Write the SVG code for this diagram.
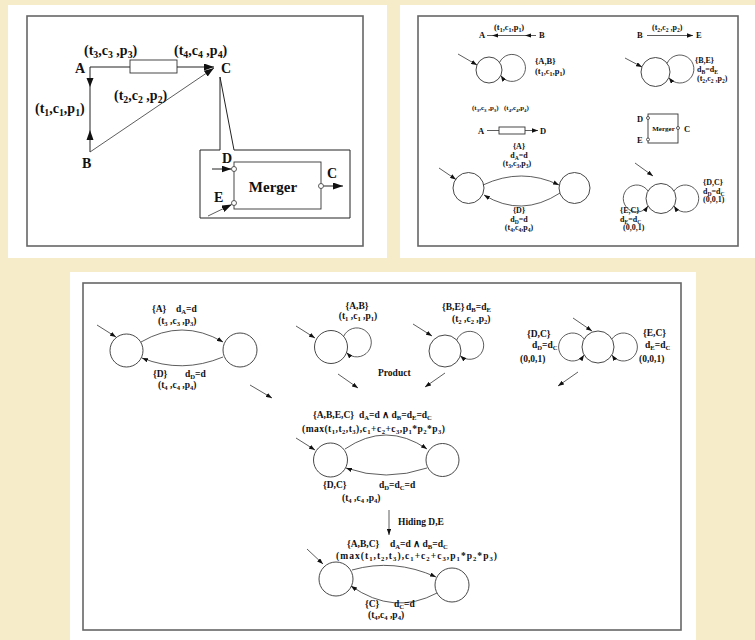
<svg xmlns="http://www.w3.org/2000/svg" width="755" height="640" viewBox="0 0 755 640">
<defs>
<style>
.bg{fill:#f6ecc9}
.pan{fill:#fff}
.frm{fill:none;stroke:#666;stroke-width:1.6}
.ln{fill:none;stroke:#222;stroke-width:1}
.lt{fill:none;stroke:#333;stroke-width:0.8}
.st{fill:#fff;stroke:#333;stroke-width:0.9}
.port{fill:#fff;stroke:#333;stroke-width:0.8}
.ah{fill:#111}
text{font-family:"Liberation Serif","Times New Roman",serif;font-weight:bold;fill:#111}
.f14{font-size:14px}
.f15{font-size:15px}
.f9{font-size:8.5px}
.f95{font-size:9.5px}
.f7{font-size:7px}
.f8{font-size:8px}
.s{font-size:70%}
.f14 .s{baseline-shift:-3px}
.f9 .s,.f8 .s,.f7 .s{baseline-shift:-1.5px}
.f95 .s{baseline-shift:-2px}
</style>
<marker id="big" markerUnits="userSpaceOnUse" markerWidth="10" markerHeight="7" refX="10" refY="3.5" orient="auto"><path d="M0,0 L10,3.5 L0,7 z" class="ah"/></marker>
<marker id="sm" markerUnits="userSpaceOnUse" markerWidth="6" markerHeight="4.4" refX="6" refY="2.2" orient="auto"><path d="M0,0 L6,2.2 L0,4.4 z" class="ah"/></marker>
</defs>
<rect class="bg" x="0" y="0" width="755" height="640"/>
<rect class="pan" x="8" y="5" width="379" height="253"/>
<rect class="pan" x="400" y="5" width="355" height="253"/>
<rect class="pan" x="70" y="272" width="626" height="368"/>
<rect class="frm" x="27" y="16" width="336" height="230"/>
<rect class="frm" x="418" y="16" width="320" height="230"/>
<rect class="frm" x="83" y="283" width="598" height="347"/>

<!-- Panel 1 -->
<g id="p1-connectors">
<line class="ln" x1="90" y1="67" x2="130" y2="67"/>
<rect class="st" x="130" y="60" width="47" height="13"/>
<line class="ln" x1="177" y1="67" x2="214" y2="67" marker-end="url(#big)"/>
<line class="ln" x1="90" y1="67" x2="90" y2="152"/>
<polygon class="ah" points="86.5,78 93.5,78 90,87"/>
<polygon class="ah" points="86.5,140 93.5,140 90,130"/>
<line class="lt" x1="90" y1="152" x2="214" y2="68" marker-end="url(#big)"/>
<path class="ln" d="M220,77 L220,150 L200,150 L200,218 L350,218 L350,150 L234,150 Z"/>
<line class="ln" x1="212" y1="169" x2="231.5" y2="169" marker-end="url(#big)"/>
<line class="lt" x1="208" y1="216" x2="231.8" y2="204.5" marker-end="url(#big)"/>
<line class="ln" x1="323.5" y1="186" x2="343" y2="186" marker-end="url(#big)"/>
</g>
<g id="p1-A"><text class="f14" x="75" y="73">A</text></g>
<g id="p1-B"><text class="f14" x="82" y="168">B</text></g>
<g id="p1-C"><text class="f14" x="221" y="73">C</text></g>
<g id="p1-labels">
<text class="f14" x="84" y="55">(t<tspan class="s">3</tspan>,c<tspan class="s">3</tspan> ,p<tspan class="s">3</tspan>)</text>
<text class="f14" x="174" y="55">(t<tspan class="s">4</tspan>,c<tspan class="s">4</tspan> ,p<tspan class="s">4</tspan>)</text>
<text class="f14" x="35" y="113">(t<tspan class="s">1</tspan>,c<tspan class="s">1</tspan>,p<tspan class="s">1</tspan>)</text>
<text class="f14" x="114" y="100">(t<tspan class="s">2</tspan>,c<tspan class="s">2</tspan> ,p<tspan class="s">2</tspan>)</text>
</g>
<g id="p1-merger">
<rect class="st" x="234" y="162" width="87" height="47"/>
<circle class="port" cx="234" cy="169" r="2.5"/>
<circle class="port" cx="234" cy="203" r="2.5"/>
<circle class="port" cx="321" cy="186" r="2.5"/>
<text class="f15" x="273" y="192" text-anchor="middle">Merger</text>
<text class="f14" x="222" y="163">D</text>
<text class="f14" x="214" y="202">E</text>
<text class="f14" x="327" y="178">C</text>
</g>

<!-- Panel 2 -->
<g id="p2-AB">
<text class="f9" x="479" y="38">A</text>
<line class="lt" x1="487" y1="35.5" x2="536" y2="35.5"/>
<polygon class="ah" points="492,35.5 498,33.5 498,37.5"/>
<polygon class="ah" points="525,35.5 531,33.5 531,37.5"/>
<text class="f9" x="539" y="38">B</text>
<text class="f9" x="494" y="30">(t<tspan class="s">1</tspan>,c<tspan class="s">1</tspan>,p<tspan class="s">1</tspan>)</text>
</g>
<g id="p2-BE">
<text class="f9" x="637" y="38">B</text>
<line class="lt" x1="647" y1="35.5" x2="693" y2="35.5" marker-end="url(#sm)"/>
<text class="f9" x="696" y="38">E</text>
<text class="f8" x="652" y="30">(t<tspan class="s">2</tspan>,c<tspan class="s">2</tspan> ,p<tspan class="s">2</tspan>)</text>
</g>
<g id="p2-autAB">
<circle class="st" cx="489" cy="70" r="13"/>
<line class="lt" x1="458" y1="54" x2="477" y2="65" marker-end="url(#sm)"/>
<path class="lt" d="M499.6,62.5 A13.5,13.5 0 1 1 500.8,75.5" marker-end="url(#sm)"/>
<text class="f9" x="535" y="64">{A,B}</text>
<text class="f9" x="535" y="74">(t<tspan class="s">1</tspan>,c<tspan class="s">1</tspan>,p<tspan class="s">1</tspan>)</text>
</g>
<g id="p2-autBE">
<circle class="st" cx="655.5" cy="72" r="14.5"/>
<line class="lt" x1="625" y1="58" x2="642" y2="67" marker-end="url(#sm)"/>
<path class="lt" d="M667.1,63.3 A14,14 0 1 1 668.9,77.7" marker-end="url(#sm)"/>
<text class="f8" x="695" y="63">{B,E}</text>
<text class="f8" x="697" y="72">d<tspan class="s">B</tspan>=d<tspan class="s">E</tspan></text>
<text class="f8" x="697" y="81">(t<tspan class="s">2</tspan>,c<tspan class="s">2</tspan> ,p<tspan class="s">2</tspan>)</text>
</g>
<g id="p2-AD">
<text class="f7" x="472" y="110">(t<tspan class="s">3</tspan>,c<tspan class="s">3</tspan> ,p<tspan class="s">3</tspan>)</text>
<text class="f7" x="504" y="110">(t<tspan class="s">4</tspan>,c<tspan class="s">4</tspan>,p<tspan class="s">4</tspan>)</text>
<text class="f9" x="478" y="134">A</text>
<line class="lt" x1="487" y1="130.5" x2="499" y2="130.5"/>
<rect class="st" x="499" y="127" width="26" height="7"/>
<line class="lt" x1="525" y1="130.5" x2="538" y2="130.5" marker-end="url(#sm)"/>
<text class="f9" x="540" y="134">D</text>
</g>
<g id="p2-merger">
<rect class="st" x="648" y="114" width="30" height="29"/>
<circle class="port" cx="648" cy="118" r="1.5"/>
<circle class="port" cx="648" cy="139.5" r="1.5"/>
<circle class="port" cx="678" cy="128" r="1.5"/>
<text class="f7" x="663.5" y="131" text-anchor="middle">Merger</text>
<text class="f9" x="637" y="122">D</text>
<text class="f9" x="637" y="143">E</text>
<text class="f9" x="684" y="132">C</text>
</g>
<g id="p2-autAD">
<circle class="st" cx="468.5" cy="188" r="15.5"/>
<circle class="st" cx="574.5" cy="188" r="15.5"/>
<line class="lt" x1="439" y1="168" x2="456" y2="179.5" marker-end="url(#sm)"/>
<path class="lt" d="M483,185 Q521.5,167 559,185" marker-end="url(#sm)"/>
<path class="lt" d="M560,193 Q521.5,218 484,195" marker-end="url(#sm)"/>
<text class="f8" x="519" y="149" text-anchor="middle">{A}</text>
<text class="f8" x="519" y="157.5" text-anchor="middle">d<tspan class="s">A</tspan>=d</text>
<text class="f8" x="517" y="166" text-anchor="middle">(t<tspan class="s">3</tspan>,c<tspan class="s">3</tspan>,p<tspan class="s">3</tspan>)</text>
<text class="f8" x="519" y="213" text-anchor="middle">{D}</text>
<text class="f8" x="519" y="221.5" text-anchor="middle">d<tspan class="s">D</tspan>=d</text>
<text class="f8" x="519" y="230" text-anchor="middle">(t<tspan class="s">4</tspan>,c<tspan class="s">4</tspan>,p<tspan class="s">4</tspan>)</text>
</g>
<g id="p2-autMerger">
<circle class="st" cx="661" cy="198.5" r="15"/>
<line class="lt" x1="635" y1="163" x2="653" y2="176" marker-end="url(#sm)"/>
<path class="lt" d="M648,191 A13.5,13.5 0 1 0 648,206" marker-end="url(#sm)"/>
<path class="lt" d="M674,191 A13.5,13.5 0 1 1 674,206" marker-end="url(#sm)"/>
<text class="f8" x="703" y="185">{D,C}</text>
<text class="f8" x="703" y="193.5">d<tspan class="s">D</tspan>=d<tspan class="s">C</tspan></text>
<text class="f8" x="703" y="202">(0,0,1)</text>
<text class="f8" x="620" y="213">{E,C}</text>
<text class="f8" x="620" y="221.5">d<tspan class="s">E</tspan>=d<tspan class="s">C</tspan></text>
<text class="f8" x="623" y="230">(0,0,1)</text>
</g>

<!-- Panel 3 -->
<g id="p3-connectors">
<line class="lt" x1="250" y1="385" x2="272" y2="398" marker-end="url(#sm)"/>
<line class="lt" x1="338" y1="374" x2="358" y2="388" marker-end="url(#sm)"/>
<line class="lt" x1="445" y1="373" x2="425" y2="387" marker-end="url(#sm)"/>
<line class="lt" x1="578" y1="372" x2="558" y2="386" marker-end="url(#sm)"/>
<line class="lt" x1="389" y1="510" x2="389" y2="535" marker-end="url(#sm)"/>
<text class="f95" x="378" y="376">Product</text>
<text class="f95" x="398" y="525">Hiding D,E</text>
</g>
<g id="p3-autAD">
<circle class="st" cx="126.5" cy="350.5" r="16.5"/>
<circle class="st" cx="240" cy="350" r="17"/>
<line class="lt" x1="97" y1="325" x2="116" y2="337" marker-end="url(#sm)"/>
<path class="lt" d="M141,342 Q182,318 223,342" marker-end="url(#sm)"/>
<path class="lt" d="M223,357 Q182,374 142,358" marker-end="url(#sm)"/>
<text class="f95" x="152" y="312">{A}</text>
<text class="f95" x="176" y="312">d<tspan class="s">A</tspan>=d</text>
<text class="f95" x="158" y="324">(t<tspan class="s">3</tspan> ,c<tspan class="s">3</tspan> ,p<tspan class="s">3</tspan>)</text>
<text class="f95" x="153" y="377">{D}</text>
<text class="f95" x="185" y="377">d<tspan class="s">D</tspan>=d</text>
<text class="f95" x="158" y="388">(t<tspan class="s">4</tspan> ,c<tspan class="s">4</tspan> ,p<tspan class="s">4</tspan>)</text>
</g>
<g id="p3-autAB">
<circle class="st" cx="331" cy="347" r="16.5"/>
<line class="lt" x1="296" y1="326" x2="315" y2="338" marker-end="url(#sm)"/>
<path class="lt" d="M343.6,336.4 A14.5,14.5 0 1 1 346.5,352.6" marker-end="url(#sm)"/>
<text class="f95" x="357" y="309" text-anchor="middle">{A,B}</text>
<text class="f95" x="358" y="319" text-anchor="middle">(t<tspan class="s">1</tspan> ,c<tspan class="s">1</tspan> ,p<tspan class="s">1</tspan>)</text>
</g>
<g id="p3-autBE">
<circle class="st" cx="445" cy="351" r="16"/>
<line class="lt" x1="413" y1="324" x2="432" y2="336" marker-end="url(#sm)"/>
<path class="lt" d="M456.7,340.1 A14,14 0 1 1 460.3,355.7" marker-end="url(#sm)"/>
<text class="f95" x="442" y="310">{B,E}</text>
<text class="f95" x="466" y="310">d<tspan class="s">B</tspan>=d<tspan class="s">E</tspan></text>
<text class="f95" x="452" y="322">(t<tspan class="s">2</tspan> ,c<tspan class="s">2</tspan> ,p<tspan class="s">2</tspan>)</text>
</g>
<g id="p3-autMerger">
<circle class="st" cx="598" cy="347" r="16"/>
<line class="lt" x1="573" y1="318" x2="592" y2="331" marker-end="url(#sm)"/>
<path class="lt" d="M584.1,339 A14,14 0 1 0 584.1,355" marker-end="url(#sm)"/>
<path class="lt" d="M611.9,339 A14,14 0 1 1 611.9,355" marker-end="url(#sm)"/>
<text class="f95" x="527" y="337">{D,C}</text>
<text class="f95" x="532" y="348">d<tspan class="s">D</tspan>=d<tspan class="s">C</tspan></text>
<text class="f95" x="520" y="362">(0,0,1)</text>
<text class="f95" x="643" y="336">{E,C}</text>
<text class="f95" x="645" y="348">d<tspan class="s">E</tspan>=d<tspan class="s">C</tspan></text>
<text class="f95" x="639" y="362">(0,0,1)</text>
</g>
<g id="p3-product">
<circle class="st" cx="330.5" cy="460" r="17"/>
<circle class="st" cx="442.5" cy="460" r="16.5"/>
<line class="lt" x1="296" y1="438" x2="315" y2="450" marker-end="url(#sm)"/>
<path class="lt" d="M345,449 Q386,421 427,449" marker-end="url(#sm)"/>
<path class="lt" d="M427,468 Q386,482 346,468" marker-end="url(#sm)"/>
<text class="f95" x="313" y="418">{A,B,E,C}</text>
<text class="f95" x="359" y="418">d<tspan class="s">A</tspan>=d ∧ d<tspan class="s">B</tspan>=d<tspan class="s">E</tspan>=d<tspan class="s">C</tspan></text>
<text class="f95" x="302" y="432" textLength="143" lengthAdjust="spacing">(max(t<tspan class="s">1</tspan>,t<tspan class="s">2</tspan>,t<tspan class="s">3</tspan>),c<tspan class="s">1</tspan>+c<tspan class="s">2</tspan>+c<tspan class="s">3</tspan>,p<tspan class="s">1</tspan>*p<tspan class="s">2</tspan>*p<tspan class="s">3</tspan>)</text>
<text class="f95" x="323" y="488">{D,C}</text>
<text class="f95" x="379" y="488">d<tspan class="s">D</tspan>=d<tspan class="s">C</tspan>=d</text>
<text class="f95" x="342" y="501">(t<tspan class="s">4</tspan> ,c<tspan class="s">4</tspan> ,p<tspan class="s">4</tspan>)</text>
</g>
<g id="p3-hidden">
<circle class="st" cx="336" cy="579" r="17"/>
<circle class="st" cx="452" cy="585" r="17"/>
<line class="lt" x1="307" y1="549" x2="323" y2="564" marker-end="url(#sm)"/>
<path class="lt" d="M352,570 Q394,558 436,577" marker-end="url(#sm)"/>
<path class="lt" d="M437,593 Q394,616 351,586" marker-end="url(#sm)"/>
<text class="f95" x="347" y="547">{A,B,C}</text>
<text class="f95" x="390" y="547">d<tspan class="s">A</tspan>=d ∧ d<tspan class="s">B</tspan>=d<tspan class="s">C</tspan></text>
<text class="f95" x="336" y="559" textLength="161" lengthAdjust="spacing">(max(t<tspan class="s">1</tspan>,t<tspan class="s">2</tspan>,t<tspan class="s">3</tspan>),c<tspan class="s">1</tspan>+c<tspan class="s">2</tspan>+c<tspan class="s">3</tspan>,p<tspan class="s">1</tspan>*p<tspan class="s">2</tspan>*p<tspan class="s">3</tspan>)</text>
<text class="f95" x="365" y="607">{C}</text>
<text class="f95" x="394" y="607">d<tspan class="s">C</tspan>=d</text>
<text class="f95" x="368" y="618">(t<tspan class="s">4</tspan>,c<tspan class="s">4</tspan> ,p<tspan class="s">4</tspan>)</text>
</g>
</svg>
